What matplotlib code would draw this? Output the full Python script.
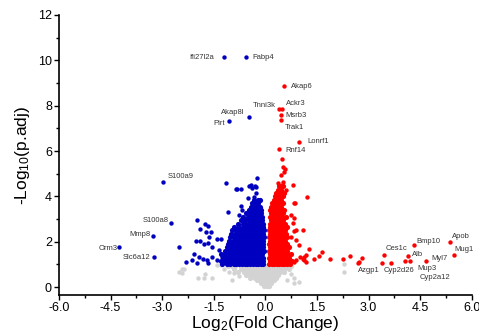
import numpy as np
import matplotlib; matplotlib.use("Agg")
import matplotlib.pyplot as plt
from matplotlib.ticker import MultipleLocator, FormatStrFormatter

plt.rcParams["font.family"] = ["Liberation Sans", "DejaVu Sans"]
plt.rcParams["mathtext.fontset"] = "custom"
plt.rcParams["mathtext.rm"] = "Liberation Sans"
plt.rcParams["mathtext.default"] = "regular"

# ---- data: log2 fold change / -log10(p.adj) ----
# dense clouds as (y, [x...]) rows
blue_core = [
    (1.02, [-1.25, -1.12, -1.02, -0.92, -0.84, -0.76, -0.68, -0.60, -0.52, -0.44, -0.36, -0.28, -0.20, -0.12, -0.06]),
    (1.15, [-1.30, -1.18, -1.08, -0.98, -0.88, -0.80, -0.72, -0.64, -0.56, -0.48, -0.40, -0.32, -0.24, -0.16, -0.08]),
    (1.30, [-1.22, -1.12, -1.03, -0.94, -0.85, -0.77, -0.69, -0.61, -0.53, -0.45, -0.37, -0.29, -0.21, -0.13, -0.06]),
    (1.45, [-1.28, -1.16, -1.06, -0.97, -0.89, -0.81, -0.73, -0.65, -0.57, -0.49, -0.41, -0.33, -0.25, -0.17, -0.09]),
    (1.60, [-1.18, -1.08, -0.99, -0.90, -0.82, -0.74, -0.66, -0.58, -0.50, -0.42, -0.34, -0.26, -0.18, -0.10, -0.05]),
    (1.75, [-1.12, -1.02, -0.93, -0.85, -0.77, -0.69, -0.61, -0.53, -0.45, -0.37, -0.29, -0.21, -0.13, -0.06]),
    (1.90, [-1.08, -0.98, -0.89, -0.80, -0.72, -0.64, -0.56, -0.48, -0.40, -0.32, -0.24, -0.16, -0.08]),
    (2.05, [-1.05, -0.95, -0.86, -0.78, -0.70, -0.62, -0.54, -0.46, -0.38, -0.30, -0.22, -0.14, -0.06]),
    (2.20, [-1.02, -0.92, -0.83, -0.75, -0.67, -0.59, -0.51, -0.43, -0.35, -0.27, -0.19, -0.11, -0.05]),
    (2.35, [-1.00, -0.88, -0.79, -0.71, -0.63, -0.55, -0.47, -0.39, -0.31, -0.23, -0.15, -0.08]),
    (2.50, [-0.96, -0.84, -0.74, -0.66, -0.58, -0.50, -0.42, -0.34, -0.26, -0.18, -0.10, -0.05]),
    (2.65, [-0.90, -0.76, -0.62, -0.54, -0.46, -0.38, -0.30, -0.22, -0.14, -0.07]),
    (2.80, [-0.80, -0.66, -0.55, -0.47, -0.39, -0.31, -0.23, -0.15, -0.08]),
    (2.95, [-0.70, -0.58, -0.48, -0.40, -0.32, -0.24, -0.16, -0.09]),
    (3.10, [-0.66, -0.50, -0.42, -0.34, -0.26, -0.18, -0.10]),
    (3.25, [-0.55, -0.44, -0.36, -0.28, -0.20, -0.12]),
    (3.40, [-0.48, -0.38, -0.30, -0.22, -0.14]),
    (3.55, [-0.43, -0.33, -0.25, -0.17]),
    (3.70, [-0.38, -0.28, -0.20]),
    (3.85, [-0.32, -0.22, -0.15]),
]
red_core = [
    (1.02, [0.12, 0.19, 0.26, 0.33, 0.40, 0.47, 0.54, 0.62, 0.72]),
    (1.15, [0.14, 0.21, 0.28, 0.35, 0.42, 0.49, 0.56, 0.66, 0.78]),
    (1.30, [0.12, 0.19, 0.26, 0.33, 0.40, 0.47, 0.54, 0.61, 0.70]),
    (1.45, [0.14, 0.21, 0.28, 0.35, 0.42, 0.49, 0.56, 0.64, 0.75]),
    (1.60, [0.12, 0.19, 0.26, 0.33, 0.40, 0.47, 0.54, 0.62]),
    (1.75, [0.14, 0.21, 0.28, 0.35, 0.42, 0.49, 0.57, 0.68]),
    (1.90, [0.12, 0.19, 0.26, 0.33, 0.40, 0.47, 0.54, 0.62]),
    (2.05, [0.14, 0.21, 0.28, 0.35, 0.42, 0.49, 0.58]),
    (2.20, [0.12, 0.19, 0.26, 0.33, 0.40, 0.47, 0.55, 0.64]),
    (2.35, [0.14, 0.21, 0.28, 0.35, 0.42, 0.50, 0.60]),
    (2.50, [0.12, 0.19, 0.26, 0.33, 0.40, 0.47, 0.56]),
    (2.65, [0.14, 0.21, 0.28, 0.35, 0.42, 0.50, 0.62]),
    (2.80, [0.13, 0.20, 0.27, 0.34, 0.41, 0.48, 0.56]),
    (2.95, [0.15, 0.22, 0.29, 0.36, 0.43, 0.52]),
    (3.10, [0.13, 0.20, 0.27, 0.34, 0.41, 0.48, 0.60]),
    (3.25, [0.15, 0.22, 0.29, 0.36, 0.43, 0.51]),
    (3.40, [0.14, 0.21, 0.28, 0.35, 0.42, 0.55]),
    (3.55, [0.17, 0.24, 0.31, 0.38, 0.46]),
    (3.70, [0.20, 0.27, 0.34, 0.41, 0.50]),
    (3.85, [0.24, 0.31, 0.38, 0.45]),
    (4.00, [0.28, 0.35, 0.42, 0.50]),
    (4.15, [0.32, 0.40, 0.54]),
    (4.30, [0.36, 0.46]),
    (4.45, [0.40, 0.52]),
]
gray_core = [
    (0.95, [-1.10, -0.98, -0.88, -0.72, -0.60, -0.50, -0.40, -0.30, -0.20, -0.10, 0.00, 0.10, 0.20, 0.30, 0.40, 0.50, 0.62, 0.75]),
    (0.82, [-0.90, -0.70, -0.58, -0.48, -0.38, -0.28, -0.18, -0.08, 0.02, 0.12, 0.22, 0.32, 0.42, 0.55, 0.68]),
    (0.68, [-0.80, -0.62, -0.50, -0.40, -0.30, -0.20, -0.10, 0.00, 0.10, 0.20, 0.30, 0.42, 0.55]),
    (0.55, [-0.55, -0.42, -0.32, -0.22, -0.12, -0.02, 0.08, 0.18, 0.28, 0.38]),
    (0.42, [-0.45, -0.30, -0.20, -0.10, 0.00, 0.10, 0.20, 0.32]),
    (0.30, [-0.25, -0.15, -0.05, 0.05, 0.15, 0.25]),
    (0.18, [-0.12, -0.03, 0.06, 0.15]),
    (0.06, [-0.05, 0.05, 0.12]),
]

# scattered points
blue_x = [-1.20, -0.57, -0.49, -1.05, -2.97, -2.73, -3.26, -4.24, -3.24,
          -1.13, -0.83, -0.72, -1.08, -2.00, -1.91, -1.74, -1.66, -1.72, -1.59, -1.64, -1.40, -1.28,
          -2.03, -1.90, -2.51, -1.78, -1.66, -1.54, -2.07, -1.93, -1.80, -2.14, -2.30, -1.98, -1.71,
          -1.54, -1.67, -1.40, -1.27, -1.35, -0.23, -0.47, -0.38, -0.28, -0.33, -0.50, -0.72, -0.67,
          -0.76, -0.43, -0.30, -0.28, -0.86, -0.62]
blue_y = [10.13, 10.13, 7.52, 7.34, 4.64, 2.83, 2.26, 1.75, 1.31,
          4.57, 4.33, 4.33, 3.33, 2.95, 2.56, 2.80, 2.69, 2.41, 2.41, 2.19, 2.10, 2.14,
          2.04, 2.03, 1.78, 1.92, 1.95, 1.75, 1.44, 1.34, 1.22, 1.19, 1.12, 1.07, 1.19,
          1.31, 1.07, 1.19, 1.34, 1.63, 4.83, 4.46, 4.39, 4.42, 3.98, 3.91, 3.57, 3.42,
          3.17, 4.52, 4.45, 4.13, 4.32, 2.95]
red_x = [0.55, 0.49, 0.41, 0.44, 0.46, 0.98, 0.39, 0.48, 0.52, 0.58, 0.54, 0.45, 0.38, 0.47,
         0.51, 0.80, 0.59, 0.54, 0.86, 1.22, 0.83, 0.74, 0.80, 0.88, 1.08, 0.82, 0.84, 0.74,
         0.88, 0.98, 1.27, 1.12, 1.42, 1.56, 1.66, 1.87, 1.00, 1.08, 1.17, 1.12, 1.19, 0.88,
         0.83, 2.27, 2.45, 2.69, 2.72, 2.80, 3.38, 3.45, 3.66, 4.05, 4.14, 4.21, 4.32, 4.66,
         5.36, 5.49]
red_y = [8.85, 7.85, 7.85, 7.59, 7.36, 6.40, 6.11, 5.64, 5.30, 5.23, 5.08, 4.93, 4.57, 4.52,
         4.64, 4.52, 4.27, 4.13, 3.71, 3.98, 3.69, 3.17, 2.83, 2.51, 2.54, 2.49, 3.05, 2.22,
         2.07, 1.85, 1.70, 1.34, 1.26, 1.37, 1.56, 1.26, 1.31, 1.23, 1.41, 1.19, 1.11, 1.19,
         1.11, 1.23, 1.37, 1.07, 1.11, 1.29, 1.07, 1.41, 1.07, 1.13, 1.37, 1.13, 1.86, 1.16,
         1.97, 1.40]
gray_x = [-2.51, -2.36, -2.41, -2.41, -1.95, -1.74, -1.54, -1.40, -1.30, -1.20, -1.06, -0.91,
          -0.96, -0.77, -1.78, 0.74, 0.64, 0.83, 0.98, 0.83, 2.29, 2.29]
gray_y = [0.68, 0.78, 0.63, 0.82, 0.38, 0.56, 0.38, 0.97, 0.97, 0.82, 0.68, 0.60,
          0.31, 0.48, 0.38, 0.56, 0.31, 0.16, 0.23, 0.38, 1.01, 0.68]

genes = ["Ifi27l2a", "Fabp4", "Akap6", "Tnni3k", "Ackr3", "Msrb3", "Trak1", "Akap8l", "Pirt",
         "Lonrf1", "Rnf14", "S100a9", "S100a8", "Mmp8", "Orm3", "Slc6a12", "Bmp10", "Apob",
         "Mug1", "Ces1c", "Alb", "Myl7", "Mup3", "Cyp2a12", "Cyp2d26", "Azgp1"]
# label anchor in data coords and horizontal alignment
gene_tx = [-1.49, -0.38, 0.75, 0.31, 0.60, 0.58, 0.57, -0.94, -1.16, 1.22, 0.59, -2.85, -2.82,
           -3.33, -4.28, -3.33, 4.40, 5.41, 5.49, 3.50, 4.27, 4.82, 4.41, 4.47, 3.43, 2.69]
gene_ty = [10.13, 10.13, 8.84, 8.00, 8.08, 7.55, 7.06, 7.70, 7.21, 6.42, 6.04, 4.86, 2.92,
           2.33, 1.70, 1.31, 2.03, 2.22, 1.66, 1.70, 1.45, 1.26, 0.84, 0.41, 0.75, 0.75]
gene_ha = ["right", "left", "left", "right", "left", "left", "left", "center", "right",
           "left", "left", "left", "right", "right", "right", "right", "left", "left",
           "left", "left", "left", "left", "left", "left", "left", "left"]


def unroll(rows):
    ax_, ay_ = [], []
    for y, row in rows:
        ax_ += row; ay_ += [y] * len(row)
    return np.array(ax_), np.array(ay_)


gcx, gcy = unroll(gray_core)
bcx, bcy = unroll(blue_core)
rcx, rcy = unroll(red_core)

fig = plt.figure(figsize=(4.79, 3.33), dpi=100)
ax = fig.add_axes([0.123, 0.114, 0.862, 0.841])
ms, mc = 10, 14   # scattered / dense-core marker area
GRAY, BLUE, RED = "#d3d3d3", "#0000c0", "#ff0000"
ax.scatter(gcx, gcy, s=mc, color=GRAY, lw=0, zorder=2)
ax.scatter(gray_x, gray_y, s=ms, color=GRAY, lw=0, zorder=2)
ax.scatter(bcx, bcy, s=mc, color=BLUE, lw=0, zorder=3)
ax.scatter(blue_x, blue_y, s=ms, color=BLUE, lw=0, zorder=3)
ax.scatter(rcx, rcy, s=mc, color=RED, lw=0, zorder=3)
ax.scatter(red_x, red_y, s=ms, color=RED, lw=0, zorder=3)
for g, tx, ty, ha in zip(genes, gene_tx, gene_ty, gene_ha):
    ax.text(tx, ty, g, fontsize=5.5, color="#333333", ha=ha, va="center", zorder=4)

ax.set_xlim(-6, 6); ax.set_ylim(-0.35, 12)
ax.xaxis.set_major_locator(MultipleLocator(1.5)); ax.xaxis.set_minor_locator(MultipleLocator(0.75))
ax.yaxis.set_major_locator(MultipleLocator(2)); ax.yaxis.set_minor_locator(MultipleLocator(1))
ax.xaxis.set_major_formatter(FormatStrFormatter("%.1f"))
ax.tick_params(which="major", direction="out", length=3.5, width=1, labelsize=9, pad=1.5)
ax.tick_params(which="minor", direction="out", length=2, width=1)
for s in ["top", "right"]: ax.spines[s].set_visible(False)
for s in ["left", "bottom"]: ax.spines[s].set_linewidth(1.2)
ax.set_xlabel("Log$_2$(Fold Change)", fontsize=12.5, labelpad=0)
ax.set_ylabel("-Log$_{10}$(p.adj)", fontsize=12.5, labelpad=4)
fig.savefig("out.png", dpi=100)
